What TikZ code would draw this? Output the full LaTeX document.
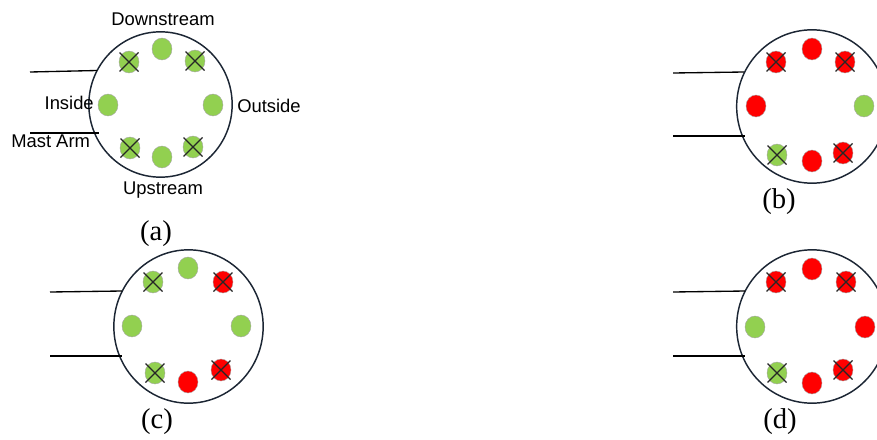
\documentclass[tikz,border=0pt]{standalone}
\usepackage{fontspec}
\setmainfont{Liberation Serif}
\newfontfamily\labelfont{Liberation Sans}
\usetikzlibrary{shapes.geometric}
\definecolor{dgreen}{RGB}{146,208,80}
\definecolor{dred}{RGB}{255,0,0}
\definecolor{rim}{RGB}{28,38,52}
\begin{document}
\begin{tikzpicture}[x=0.75pt,y=-0.75pt,
  pole/.style={draw=rim, line width=1.1pt, ellipse, inner sep=0pt},
  dot/.style={ellipse, draw=black!35, line width=0.3pt, minimum width=15pt, minimum height=16.5pt, inner sep=0pt},
  xline/.style={draw=black!85, line width=0.9pt},
  arm/.style={draw=black, line width=1pt},
  lbl/.style={font=\labelfont\fontsize{13.8}{15}\selectfont, inner sep=0pt},
  captxt/.style={font=\fontsize{21.5}{24}\selectfont, inner sep=0pt}]
\useasboundingbox (0,0) rectangle (877,439);
\clip (0,0) rectangle (877,439);

% ---------- poles ----------
\node[pole, minimum width=107.5pt, minimum height=109pt] (PA) at (160.5,104.5) {};
\node[pole, minimum width=113pt, minimum height=115pt] (PB) at (812,106.5) {};
\node[pole, minimum width=112pt, minimum height=115pt] (PC) at (188.5,326.5) {};
\node[pole, minimum width=113pt, minimum height=115pt] (PD) at (812,326.5) {};

% ---------- mast arms ----------
\coordinate (a1s) at (30,72);  \coordinate (a1e) at (97,70.5);
\coordinate (a2s) at (30,133); \coordinate (a2e) at (99,133);
\coordinate (b1s) at (673,73); \coordinate (b1e) at (744,72);
\coordinate (b2s) at (673,136);\coordinate (b2e) at (745,136);
\coordinate (c1s) at (50,292); \coordinate (c1e) at (122,291);
\coordinate (c2s) at (50,356); \coordinate (c2e) at (122,356);
\coordinate (d1s) at (673,292);\coordinate (d1e) at (745,291);
\coordinate (d2s) at (673,356);\coordinate (d2e) at (745,356);
\foreach \p in {a,b,c,d}{
  \draw[arm] (\p1s) -- (\p1e);
  \draw[arm] (\p2s) -- (\p2e);
}

% ---------- sensors ----------
\foreach \n/\x/\y/\c in {
  aT/162/49/dgreen, aTL/129/62/dgreen, aTR/195/61/dgreen, aL/108/105/dgreen,
  aR/213/105/dgreen, aBL/130/148/dgreen, aB/162/157/dgreen, aBR/193/147/dgreen,
  bT/812/49/dred, bTL/776/62/dred, bTR/845/62/dred, bL/756/106/dred,
  bR/864/106/dgreen, bBL/777/155/dgreen, bB/812/161/dred, bBR/843/153/dred,
  cT/188/268/dgreen, cTL/153/282/dgreen, cTR/223/282/dred, cL/132/326/dgreen,
  cR/241/326/dgreen, cBL/155/373/dgreen, cB/188/382/dred, cBR/221/370/dred,
  dT/812/269/dred, dTL/776/282/dred, dTR/846/282/dred, dL/755/327/dgreen,
  dR/865/327/dred, dBL/777/373/dgreen, dB/812/383/dred, dBR/843/370/dred}{
  \node[dot, fill=\c] (\n) at (\x,\y) {};
}
\foreach \p in {a,b,c,d}{
  \foreach \q in {TL,TR,BL,BR}{
    \draw[xline] (\p\q.center) +(-9.5,-9.5) -- +(9.5,9.5);
    \draw[xline] (\p\q.center) +(-9.5,9.5) -- +(9.5,-9.5);
  }
}

% ---------- labels ----------
\node[lbl] (down) at (163,19) {Downstream};
\node[lbl] (up) at (163,190) {Upstream};
\node[lbl, anchor=east] (ins) at (94,103) {Inside};
\node[lbl, anchor=west] (outs) at (237,106) {Outside};
\node[lbl, anchor=west] (mast) at (11,141) {Mast Arm};

\node[captxt] (ca) at (156,234) {(a)};
\node[captxt] (cb) at (779,202) {(b)};
\node[captxt] (cc) at (157,422) {(c)};
\node[captxt] (cd) at (780,422) {(d)};
\end{tikzpicture}
\end{document}
